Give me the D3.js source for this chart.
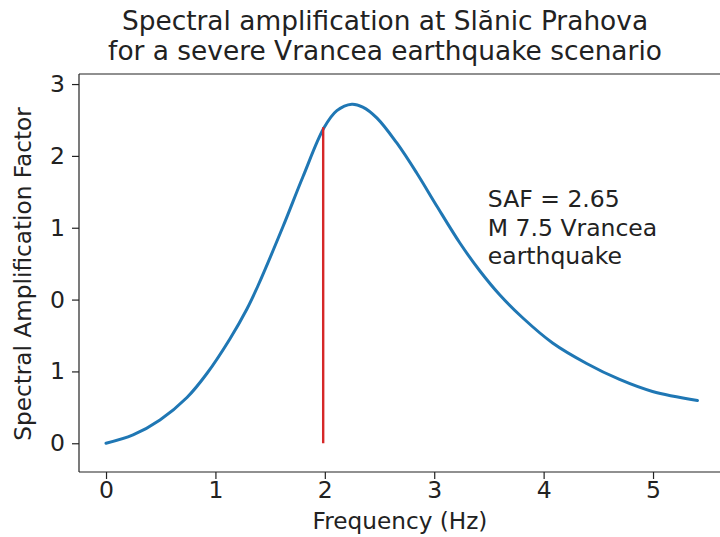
<!DOCTYPE html>
<html>
<head>
<meta charset="utf-8">
<script src="https://cdn.jsdelivr.net/npm/d3@7/dist/d3.min.js"></script>
<style>
  html, body { margin: 0; padding: 0; background: #fff; }
  svg { display: block; font-family: "DejaVu Sans", sans-serif; }
</style>
</head>
<body>
<svg id="chart" width="720" height="537"></svg>
<script>
// Frequency samples (Hz) and amplification curve values
const freq = [0.00, 0.247, 0.493, 0.740, 0.922, 1.132, 1.288, 1.388, 1.616, 1.799, 1.991, 2.110, 2.247, 2.347, 2.475, 2.658, 2.840, 3.023, 3.233, 3.416, 3.598, 3.808, 4.082, 4.393, 4.694, 4.995, 5.406];
const amp  = [0.000, 0.116, 0.324, 0.637, 0.971, 1.452, 1.869, 2.189, 3.010, 3.706, 4.388, 4.630, 4.720, 4.680, 4.530, 4.180, 3.762, 3.303, 2.791, 2.401, 2.067, 1.747, 1.396, 1.111, 0.888, 0.721, 0.596];

// Marker of the fundamental frequency
const markerFreq = [1.985];
const markerTop = [4.40];

// Axis ticks
const xTicks = [0, 1, 2, 3, 4, 5];
const yTicks = [0, 1, 2, 3, 4, 5];
const yTickLabels = ["0", "1", "0", "1", "2", "3"];

const titleLines = ["Spectral amplification at Slănic Prahova", "for a severe Vrancea earthquake scenario"];
const noteLines = ["SAF = 2.65", "M 7.5 Vrancea", "earthquake"];

const svg = d3.select("#chart");
const plot = { left: 79, right: 726, top: 74, bottom: 472 };

const x = d3.scaleLinear().domain([-0.247, 5.667]).range([plot.left, plot.right]);
const y = d3.scaleLinear().domain([-0.40, 5.14]).range([plot.bottom, plot.top]);

const ink = "#222";
const tickFont = 23.5;

// Frame: left, bottom and top spines
svg.append("line").attr("x1", plot.left).attr("x2", plot.left).attr("y1", plot.top).attr("y2", plot.bottom)
  .attr("stroke", ink).attr("stroke-width", 1.2);
svg.append("line").attr("x1", plot.left).attr("x2", plot.right).attr("y1", plot.bottom).attr("y2", plot.bottom)
  .attr("stroke", ink).attr("stroke-width", 1.2);
svg.append("line").attr("x1", plot.left).attr("x2", plot.right).attr("y1", plot.top).attr("y2", plot.top)
  .attr("stroke", ink).attr("stroke-width", 1.2);

// X axis
const xAxis = d3.axisBottom(x).tickValues(xTicks).tickFormat(d3.format("d")).tickSize(7).tickPadding(2);
const gx = svg.append("g").attr("transform", `translate(0,${plot.bottom})`).call(xAxis);
gx.select(".domain").remove();
gx.selectAll("line").attr("stroke", ink).attr("stroke-width", 1.2);
gx.selectAll("text").attr("font-size", tickFont).attr("fill", ink).attr("font-family", "DejaVu Sans");

// Y axis
const yAxis = d3.axisLeft(y).tickValues(yTicks).tickFormat((d, i) => yTickLabels[i]).tickSize(7).tickPadding(7);
const gy = svg.append("g").attr("transform", `translate(${plot.left},0)`).call(yAxis);
gy.select(".domain").remove();
gy.selectAll("line").attr("stroke", ink).attr("stroke-width", 1.2);
gy.selectAll("text").attr("font-size", tickFont).attr("fill", ink).attr("font-family", "DejaVu Sans");

// Amplification curve
const pts = freq.map((f, i) => [f, amp[i]]);
const line = d3.line().x(d => x(d[0])).y(d => y(d[1])).curve(d3.curveCatmullRom.alpha(0.5));
svg.append("path").datum(pts).attr("d", line)
  .attr("fill", "none").attr("stroke", "#1f77b4").attr("stroke-width", 3).attr("stroke-linecap", "round");

// Vertical marker at the fundamental frequency
svg.selectAll(".marker").data(markerFreq).enter().append("line")
  .attr("class", "marker")
  .attr("x1", d => x(d)).attr("x2", d => x(d))
  .attr("y1", y(0)).attr("y2", (d, i) => y(markerTop[i]))
  .attr("stroke", "#d62728").attr("stroke-width", 2.4);

// Annotation
const note = svg.append("text").attr("x", x(3.49)).attr("y", 207)
  .attr("font-size", 23.5).attr("fill", ink);
noteLines.forEach((t, i) => note.append("tspan").attr("x", x(3.49)).attr("dy", i === 0 ? 0 : 28.5).text(t));

// Title
svg.selectAll(".title").data(titleLines).enter().append("text")
  .attr("class", "title")
  .attr("x", 385).attr("y", (d, i) => 30 + i * 30)
  .attr("text-anchor", "middle").attr("font-size", 26.4).attr("fill", ink)
  .text(d => d);

// Axis labels
svg.append("text").attr("x", 400).attr("y", 529).attr("text-anchor", "middle")
  .attr("font-size", 23.2).attr("fill", ink).text("Frequency (Hz)");
svg.append("text").attr("transform", "translate(31,274) rotate(-90)").attr("text-anchor", "middle")
  .attr("font-size", 23.2).attr("fill", ink).text("Spectral Amplification Factor");
</script>
</body>
</html>
